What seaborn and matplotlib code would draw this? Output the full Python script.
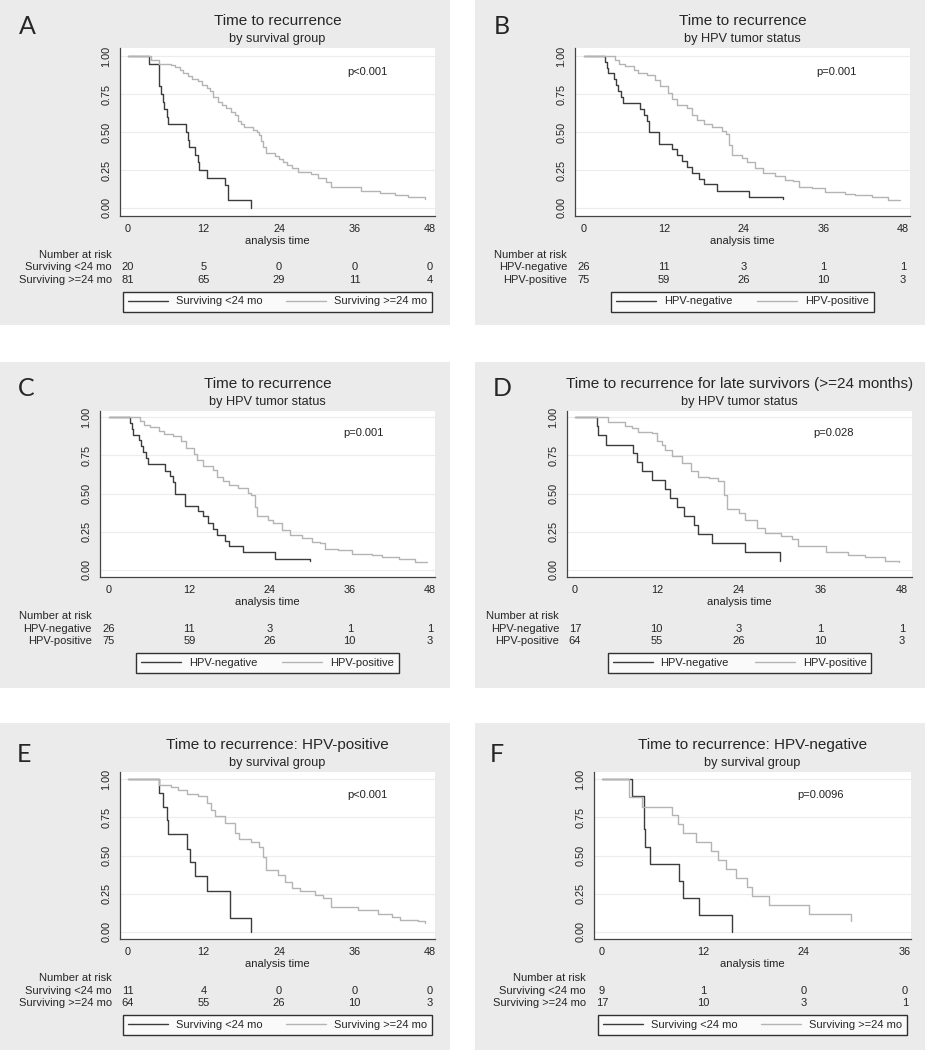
import pandas as pd
import matplotlib
matplotlib.use("Agg")
import matplotlib.pyplot as plt
import matplotlib.transforms as mtransforms
from matplotlib.patches import Rectangle
from matplotlib.lines import Line2D
import seaborn as sns

# ---------------- data ----------------
# Kaplan-Meier step points: time (months) and survival
a_short_t = [0, 3.4, 5.0, 5.3, 5.6, 5.8, 6.2, 6.4, 9.2, 9.5, 9.7, 10.6, 11.1, 11.3, 12.6, 15.4, 15.9, 19.6]
a_short_s = [1.0, 0.95, 0.80, 0.75, 0.70, 0.65, 0.60, 0.55, 0.50, 0.45, 0.40, 0.35, 0.30, 0.25, 0.20, 0.15, 0.05, 0.0]
a_long_t = [0, 3.7, 5.0, 6.9, 7.5, 8.2, 8.8, 9.5, 10.2, 11.1, 11.8, 12.5, 13.0, 13.5, 14.3, 15.0, 15.6, 16.3,
            17.0, 17.5, 18.0, 18.5, 19.9, 20.5, 20.9, 21.2, 21.5, 22.0, 23.3, 24.0, 24.6, 25.3, 26.0, 27.0,
            29.1, 30.2, 31.5, 32.3, 37.1, 40.0, 42.4, 44.5, 47.2]
a_long_s = [1.0, 0.975, 0.95, 0.94, 0.925, 0.91, 0.89, 0.87, 0.85, 0.835, 0.81, 0.79, 0.77, 0.73, 0.70, 0.68,
            0.66, 0.63, 0.61, 0.57, 0.55, 0.535, 0.515, 0.50, 0.48, 0.44, 0.40, 0.36, 0.345, 0.325, 0.30, 0.28,
            0.26, 0.24, 0.225, 0.20, 0.17, 0.135, 0.11, 0.10, 0.085, 0.075, 0.06]

hpvneg_t = [0, 3.2, 3.4, 3.6, 4.5, 4.8, 5.1, 5.5, 5.8, 8.4, 9.1, 9.5, 9.8, 11.3, 13.3, 14.0, 14.8, 15.5,
            16.2, 17.3, 18.0, 20.0, 24.8, 30.0]
hpvneg_s = [1.0, 0.96, 0.92, 0.885, 0.85, 0.81, 0.77, 0.73, 0.69, 0.65, 0.615, 0.575, 0.50, 0.42, 0.385,
            0.35, 0.31, 0.27, 0.23, 0.19, 0.155, 0.115, 0.075, 0.06]
hpvpos_t = [0, 4.6, 5.2, 6.2, 7.5, 8.2, 9.5, 10.7, 11.5, 12.7, 13.2, 14.0, 15.5, 16.2, 17.0, 18.0, 19.3,
            20.8, 21.3, 21.8, 22.2, 23.8, 24.5, 25.8, 27.0, 28.8, 30.3, 31.5, 32.3, 34.3, 36.3, 39.3, 40.8,
            43.3, 45.8, 47.6]
hpvpos_s = [1.0, 0.975, 0.95, 0.935, 0.91, 0.89, 0.875, 0.84, 0.80, 0.755, 0.72, 0.68, 0.655, 0.61, 0.58,
            0.555, 0.535, 0.505, 0.49, 0.415, 0.35, 0.33, 0.305, 0.26, 0.23, 0.21, 0.185, 0.175, 0.14, 0.13,
            0.105, 0.095, 0.085, 0.07, 0.055, 0.05]

d_neg_t = [0, 3.3, 3.4, 4.5, 8.5, 9.05, 9.8, 11.35, 13.2, 13.9, 14.9, 16.0, 17.4, 18.0, 20.1, 24.9, 30.1]
d_neg_s = [1.0, 0.94, 0.88, 0.82, 0.765, 0.705, 0.645, 0.59, 0.53, 0.47, 0.41, 0.355, 0.295, 0.235, 0.175,
           0.12, 0.06]
d_pos_t = [0, 4.9, 7.3, 8.3, 9.3, 11.25, 12.0, 12.7, 13.2, 14.2, 15.7, 17.1, 18.1, 19.6, 21.0, 21.8, 22.3,
           24.0, 25.0, 26.7, 27.9, 30.3, 31.8, 32.8, 36.9, 40.1, 42.6, 45.5, 47.6]
d_pos_s = [1.0, 0.967, 0.94, 0.93, 0.905, 0.895, 0.84, 0.82, 0.785, 0.745, 0.70, 0.645, 0.61, 0.60, 0.58,
           0.49, 0.40, 0.37, 0.33, 0.275, 0.24, 0.22, 0.20, 0.155, 0.12, 0.10, 0.083, 0.06, 0.05]

e_short_t = [0, 4.9, 5.6, 6.2, 6.3, 9.3, 9.8, 10.7, 12.5, 16.2, 19.6]
e_short_s = [1.0, 0.91, 0.82, 0.73, 0.64, 0.545, 0.455, 0.365, 0.27, 0.09, 0.0]
e_long_t = [0, 5.0, 6.9, 7.9, 9.3, 11.1, 12.5, 13.2, 13.8, 15.4, 17.0, 17.7, 19.6, 20.9, 21.5, 22.0, 23.8,
            24.9, 26.0, 27.3, 29.7, 31.0, 32.3, 36.6, 39.7, 41.9, 43.2, 46.1, 47.2]
e_long_s = [1.0, 0.96, 0.95, 0.925, 0.905, 0.89, 0.84, 0.80, 0.755, 0.71, 0.645, 0.61, 0.59, 0.555, 0.49,
            0.405, 0.37, 0.33, 0.285, 0.265, 0.24, 0.22, 0.165, 0.145, 0.12, 0.10, 0.08, 0.07, 0.06]

f_short_t = [0, 3.6, 4.95, 5.1, 5.7, 9.2, 9.6, 11.5, 15.4]
f_short_s = [1.0, 0.89, 0.67, 0.555, 0.445, 0.335, 0.22, 0.11, 0.0]
f_long_t = [0, 3.2, 4.7, 8.3, 9.0, 9.6, 11.2, 12.9, 13.8, 14.7, 15.9, 17.2, 17.8, 19.9, 24.6, 29.6]
f_long_s = [1.0, 0.88, 0.82, 0.765, 0.705, 0.645, 0.59, 0.53, 0.47, 0.41, 0.35, 0.295, 0.235, 0.175, 0.12, 0.07]

# number at risk
risk_a = [[20, 5, 0, 0, 0], [81, 65, 29, 11, 4]]
risk_bc = [[26, 11, 3, 1, 1], [75, 59, 26, 10, 3]]
risk_d = [[17, 10, 3, 1, 1], [64, 55, 26, 10, 3]]
risk_e = [[11, 4, 0, 0, 0], [64, 55, 26, 10, 3]]
risk_f = [[9, 1, 0, 0], [17, 10, 3, 1]]

surv_groups = ["Surviving <24 mo", "Surviving >=24 mo"]
hpv_groups = ["HPV-negative", "HPV-positive"]
ticks48 = [0, 12, 24, 36, 48]
ticks36 = [0, 12, 24, 36]
yticks = [0.0, 0.25, 0.5, 0.75, 1.0]

# ---------------- layout (pixels) ----------------
W, H = 925, 1050
panels = [
    dict(letter="A", title="Time to recurrence", sub="by survival group", p="p<0.001",
         curves=[(a_short_t, a_short_s), (a_long_t, a_long_s)], groups=surv_groups, risk=risk_a, xticks=ticks48,
         box=(0, 0, 450, 325), axes=(120, 48, 435, 216), xpx=(128, 430), ypx=(56, 208), let=(27, 26),
         legw=309, px=38),
    dict(letter="B", title="Time to recurrence", sub="by HPV tumor status", p="p=0.001",
         curves=[(hpvneg_t, hpvneg_s), (hpvpos_t, hpvpos_s)], groups=hpv_groups, risk=risk_bc, xticks=ticks48,
         box=(475, 0, 450, 325), axes=(575, 48, 910, 216), xpx=(584, 903), ypx=(56, 208), let=(502, 27),
         legw=263, px=38),
    dict(letter="C", title="Time to recurrence", sub="by HPV tumor status", p="p=0.001",
         curves=[(hpvneg_t, hpvneg_s), (hpvpos_t, hpvpos_s)], groups=hpv_groups, risk=risk_bc, xticks=ticks48,
         box=(0, 362, 450, 326), axes=(100, 411, 435, 577), xpx=(109, 430), ypx=(417, 570), let=(26, 388),
         legw=263, px=38),
    dict(letter="D", title="Time to recurrence for late survivors (>=24 months)", sub="by HPV tumor status",
         p="p=0.028", curves=[(d_neg_t, d_neg_s), (d_pos_t, d_pos_s)], groups=hpv_groups, risk=risk_d,
         xticks=ticks48, box=(475, 362, 450, 326), axes=(567, 411, 912, 577), xpx=(575, 902), ypx=(417, 570),
         let=(502, 388), legw=264, px=38),
    dict(letter="E", title="Time to recurrence: HPV-positive", sub="by survival group", p="p<0.001",
         curves=[(e_short_t, e_short_s), (e_long_t, e_long_s)], groups=surv_groups, risk=risk_e, xticks=ticks48,
         box=(0, 723, 450, 327), axes=(120, 772, 435, 939), xpx=(128, 430), ypx=(779, 932), let=(24, 755),
         legw=309, px=38),
    dict(letter="F", title="Time to recurrence: HPV-negative", sub="by survival group", p="p=0.0096",
         curves=[(f_short_t, f_short_s), (f_long_t, f_long_s)], groups=surv_groups, risk=risk_f, xticks=ticks36,
         box=(475, 723, 450, 327), axes=(594, 772, 911, 939), xpx=(602, 905), ypx=(779, 932), let=(497, 755),
         legw=309, px=26),
]

dark, light = "#3c3c3c", "#b4b4b4"
panel_gray = "#ebebeb"
axis_col = "#444444"

sns.set_style("white")
plt.rcParams["font.family"] = ["Liberation Sans", "DejaVu Sans"]

fig = plt.figure(figsize=(W / 100, H / 100), dpi=100)


def fx(v):
    return v / W


def fy(v):
    return 1 - v / H


for p in panels:
    bl, bt, bw, bh = p["box"]
    fig.add_artist(Rectangle((fx(bl), fy(bt + bh)), bw / W, bh / H, transform=fig.transFigure,
                             facecolor=panel_gray, edgecolor="none", zorder=-1))
    al, at, ar, ab = p["axes"]
    ax = fig.add_axes([fx(al), fy(ab), (ar - al) / W, (ab - at) / H])
    ax.set_facecolor("white")

    frames = []
    for (t, s), g in zip(p["curves"], p["groups"]):
        frames.append(pd.DataFrame({"time": t, "surv": s, "group": g}))
    df = pd.concat(frames, ignore_index=True)
    sns.lineplot(data=df, x="time", y="surv", hue="group", hue_order=p["groups"], palette=[dark, light],
                 estimator=None, sort=False, drawstyle="steps-post", lw=1.0, legend=False, ax=ax)

    # axis limits from the pixel positions of the ticks
    x0px, x1px = p["xpx"]
    xmax = p["xticks"][-1]
    sx = (x1px - x0px) / xmax
    ax.set_xlim((al - x0px) / sx, (ar - x0px) / sx)
    y1px, y0px = p["ypx"]
    sy = y0px - y1px
    ax.set_ylim((y0px - ab) / sy, (y0px - at) / sy)

    ax.set_xticks(p["xticks"])
    ax.set_yticks(yticks)
    ax.set_yticklabels([f"{v:.2f}" for v in yticks], rotation=90, va="center")
    ax.tick_params(direction="out", length=3.6, width=0.8, color=axis_col, labelsize=7.8, pad=2.5,
                   labelcolor="#222222")
    for side in ["top", "right"]:
        ax.spines[side].set_visible(False)
    for side in ["left", "bottom"]:
        ax.spines[side].set_color(axis_col)
        ax.spines[side].set_linewidth(0.9)
    ax.grid(axis="y", color="#ececec", lw=0.8)
    ax.set_axisbelow(True)
    ax.set_xlabel("analysis time", fontsize=8, labelpad=1, color="#222222")
    ax.set_ylabel("")

    ax.text(p["px"], 0.895, p["p"], fontsize=8, ha="center", va="center", color="#222222")

    # titles and panel letter
    cx = (al + ar) / 2
    fig.text(fx(cx), fy(at - 27), p["title"], ha="center", va="center", fontsize=11)
    fig.text(fx(cx), fy(at - 9), p["sub"], ha="center", va="center", fontsize=9.2)
    fig.text(fx(p["let"][0]), fy(p["let"][1]), p["letter"], ha="center", va="center", fontsize=18,
             family=["Lato", "DejaVu Sans"])

    # number at risk table
    lab_x = fx(al - 8)
    trans = mtransforms.blended_transform_factory(ax.transData, fig.transFigure)
    fig.text(lab_x, fy(ab + 39), "Number at risk", ha="right", va="center", fontsize=8)
    for row, (g, counts) in enumerate(zip(p["groups"], p["risk"])):
        yy = fy(ab + 51.5 + 12.5 * row)
        fig.text(lab_x, yy, g, ha="right", va="center", fontsize=8)
        for xt, n in zip(p["xticks"], counts):
            ax.text(xt, yy, str(n), transform=trans, ha="center", va="center", fontsize=8, clip_on=False)

    # legend box under the table
    handles = [Line2D([], [], color=c, lw=1.0) for c in (dark, light)]
    lw_px = p["legw"]
    leg = ax.legend(handles, p["groups"], loc="center",
                    bbox_to_anchor=(fx(cx - lw_px / 2), fy(ab + 96), lw_px / W, 21 / H),
                    bbox_transform=fig.transFigure, mode="expand", ncol=2, frameon=True, fancybox=False,
                    edgecolor="black", fontsize=8, handlelength=3.6, handletextpad=0.7, borderaxespad=0,
                    borderpad=0.45)
    leg.get_frame().set_linewidth(1.0)

fig.savefig("out.png", dpi=100, facecolor="white")
